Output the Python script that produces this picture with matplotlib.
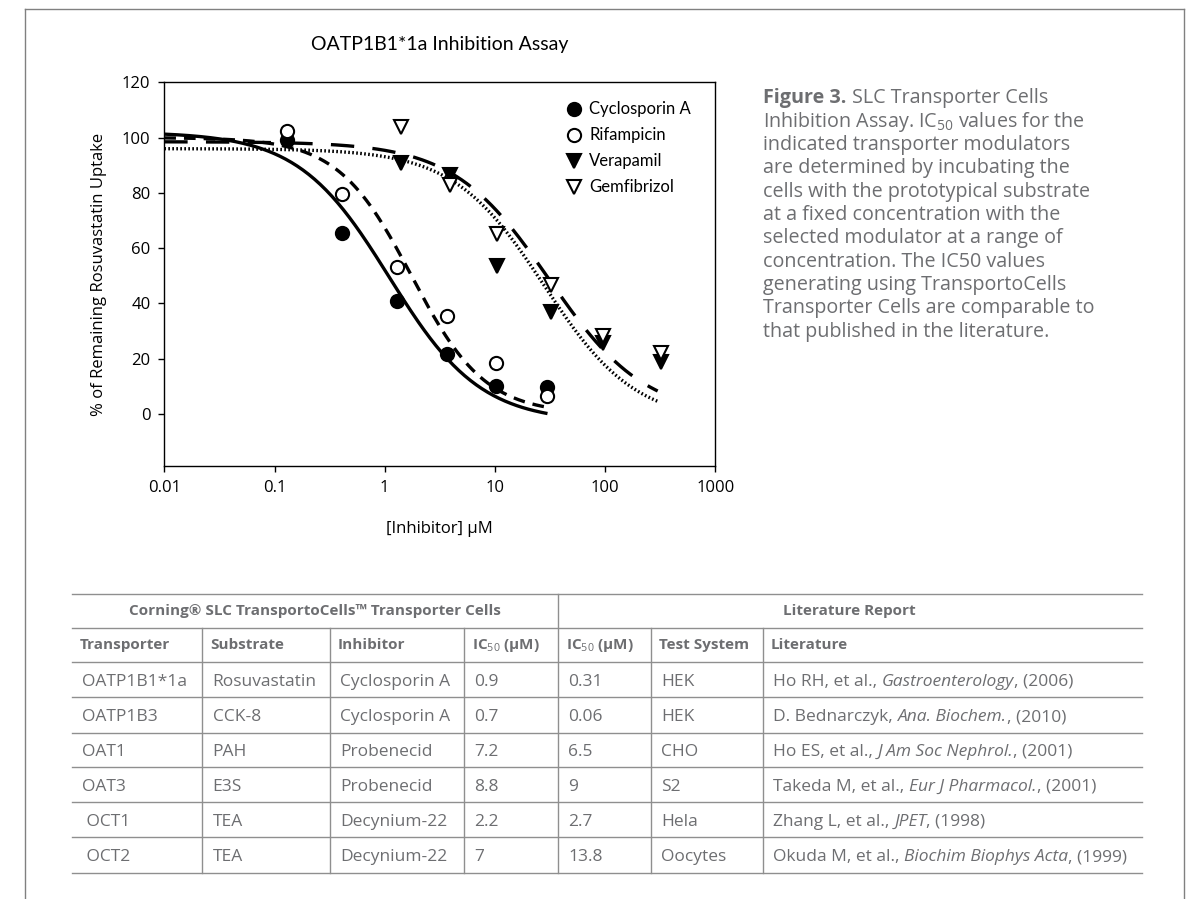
import numpy as np
import matplotlib
matplotlib.use("Agg")
import matplotlib.pyplot as plt
from matplotlib.lines import Line2D
from matplotlib.ticker import FixedLocator, NullLocator

plt.rcParams['font.family'] = ['Open Sans', 'DejaVu Sans']
plt.rcParams['mathtext.fontset'] = 'custom'
plt.rcParams['mathtext.rm'] = 'Open Sans'
plt.rcParams['mathtext.bf'] = 'Open Sans:bold'
plt.rcParams['mathtext.it'] = 'Open Sans:italic'

# ---- data ----
conc_ab = [0.13, 0.41, 1.3, 3.7, 10.3, 30]     # cyclosporin A, rifampicin
conc_vg = [1.4, 3.9, 10.5, 32, 95, 320]        # verapamil, gemfibrizol
cyclosporin = [99.0, 65.6, 40.8, 21.6, 10.2, 9.6]
rifampicin = [102.3, 79.6, 53.2, 35.4, 18.6, 6.4]
verapamil = [90.9, 86.4, 53.7, 36.9, 25.8, 18.9]
gemfibrizol = [103.9, 82.7, 65.2, 46.6, 28.2, 22.2]

names = ["Cyclosporin A", "Rifampicin", "Verapamil", "Gemfibrizol"]

# fitted dose-response curves (top, bottom, IC50, hill slope, last conc.)
fit_top = [102.0, 100.0, 98.5, 96.0]
fit_bottom = [-3.0, 0.0, -1.0, -3.0]
fit_ic50 = [1.1, 1.75, 31.0, 28.0]
fit_hill = [1.05, 1.3, 1.0, 1.05]
fit_xmax = [30, 30, 300, 300]

xtick_vals = [0.01, 0.1, 1, 10, 100, 1000]
xtick_labels = ["0.01", "0.1", "1", "10", "100", "1000"]
ytick_vals = [0, 20, 40, 60, 80, 100, 120]

caption = [
    "Inhibition Assay. IC$_{50}$ values for the",
    "indicated transporter modulators",
    "are determined by incubating the",
    "cells with the prototypical substrate",
    "at a fixed concentration with the",
    "selected modulator at a range of",
    "concentration. The IC50 values",
    "generating using TransportoCells",
    "Transporter Cells are comparable to",
    "that published in the literature.",
]

col_transporter = ["OATP1B1*1a", "OATP1B3", "OAT1", "OAT3", " OCT1", " OCT2"]
col_substrate = ["Rosuvastatin", "CCK-8", "PAH", "E3S", "TEA", "TEA"]
col_inhibitor = ["Cyclosporin A", "Cyclosporin A", "Probenecid", "Probenecid",
                 "Decynium-22", "Decynium-22"]
col_ic50 = ["0.9", "0.7", "7.2", "8.8", "2.2", "7"]
col_lit_ic50 = ["0.31", "0.06", "6.5", "9", "2.7", "13.8"]
col_system = ["HEK", "HEK", "CHO", "S2", "Hela", "Oocytes"]
lit_author = ["Ho RH, et al.,", "D. Bednarczyk,", "Ho ES, et al.,",
              "Takeda M, et al.,", "Zhang L, et al.,", "Okuda M, et al.,"]
lit_journal = ["Gastroenterology", "Ana. Biochem.", "J Am Soc Nephrol.",
               "Eur J Pharmacol.", "JPET", "Biochim Biophys Acta"]
lit_year = [", (2006)", ", (2010)", ", (2001)", ", (2001)", ", (1998)", ", (1999)"]
headers = ["Transporter", "Substrate", "Inhibitor", r"IC$_{50}$ (μM)",
           r"IC$_{50}$ (μM)", "Test System", "Literature"]

GRAY = "#6d6e71"
LINE = "#8f8f8f"

fig = plt.figure(figsize=(12, 8.99), dpi=100)

# page layer in pixel units
pg = fig.add_axes([0, 0, 1, 1])
pg.set_xlim(0, 1200)
pg.set_ylim(899, 0)
pg.axis("off")

# outer frame
for xs, ys in [([25, 1184], [9.3, 9.3]), ([25, 25], [9.3, 899]), ([1184, 1184], [9.3, 899])]:
    pg.add_line(Line2D(xs, ys, color="#808080", lw=1.0))

# ---- dose-response plot ----
ax = fig.add_axes([164.3 / 1200, 1 - 465.7 / 899, 551 / 1200, 383.4 / 899])
ax.set_xscale("log")

styles = [
    dict(ls="-"),
    dict(ls=(0, (3.5, 2.4))),
    dict(ls=(0, (7, 5.5))),
    dict(ls=(0, (0.5, 0.7))),
]
for i in range(4):
    xs = np.logspace(-2, np.log10(fit_xmax[i]), 200)
    ys = fit_bottom[i] + (fit_top[i] - fit_bottom[i]) / (1 + (xs / fit_ic50[i]) ** fit_hill[i])
    ax.plot(xs, ys, color="black", lw=2.4, solid_capstyle="butt",
            dash_capstyle="butt", **styles[i])

mk = dict(ms=9.5, mew=1.5, mec="black", ls="none")
h1, = ax.plot(conc_ab, cyclosporin, marker="o", mfc="black", **mk)
h2, = ax.plot(conc_ab, rifampicin, marker="o", mfc="white", **mk)
h3, = ax.plot(conc_vg, verapamil, marker="v", mfc="black", **mk)
h4, = ax.plot(conc_vg, gemfibrizol, marker="v", mfc="white", **mk)

ax.set_xlim(0.01, 1000)
ax.set_ylim(-18.7, 120)
ax.xaxis.set_major_locator(FixedLocator(xtick_vals))
ax.xaxis.set_minor_locator(NullLocator())
ax.set_xticklabels(xtick_labels)
ax.set_yticks(ytick_vals)
ax.tick_params(direction="out", length=4, width=1.0, labelsize=12, pad=6)
for s in ax.spines.values():
    s.set_linewidth(1.0)

ax.set_title("OATP1B1*1a Inhibition Assay", fontsize=14, family="Lato", pad=23)
ax.set_ylabel("% of Remaining Rosuvastatin Uptake", fontsize=12, labelpad=11)
ax.set_xlabel("[Inhibitor] μM", fontsize=12, labelpad=18)

leg = ax.legend([h1, h2, h3, h4], names, loc="upper left",
                bbox_to_anchor=(0.7137, 0.972), frameon=False, borderpad=0,
                handlelength=1.0, handletextpad=0.4, labelspacing=0.6,
                prop=dict(family="Lato", size=12))

# ---- caption ----
cx = 763
first = pg.text(cx, 103.5, "Figure 3.", fontsize=14.2, weight="bold",
                color=GRAY, va="baseline")
pg.annotate("SLC Transporter Cells", xy=(1, 0), xycoords=first,
            xytext=(4, 0), textcoords="offset points", fontsize=14.2,
            color=GRAY, va="bottom")
for k, line in enumerate(caption):
    pg.text(cx, 103.5 + 23.3 * (k + 1), line, fontsize=14.2, color=GRAY,
            va="baseline")

# ---- table ----
col_edges = [71.5, 202, 330, 463.5, 557.5, 651, 762.5, 1141.7]
row_lines = [594, 627.7, 661.7, 697.3, 732.7, 767.3, 802.3, 837.3, 872.7]
for y in row_lines:
    pg.add_line(Line2D([col_edges[0], col_edges[-1]], [y, y], color=LINE, lw=1.0))
for x in col_edges[1:-1]:
    top = row_lines[0] if x == 557.5 else row_lines[1]
    pg.add_line(Line2D([x, x], [top, row_lines[-1]], color=LINE, lw=1.0))

pg.text((col_edges[0] + col_edges[4]) / 2, 615,
        "Corning® SLC TransportoCells™ Transporter Cells",
        fontsize=11, weight="bold", color=GRAY, ha="center", va="baseline")
pg.text((col_edges[4] + col_edges[-1]) / 2, 615, "Literature Report",
        fontsize=11, weight="bold", color=GRAY, ha="center", va="baseline")
for j, h in enumerate(headers):
    pg.text(col_edges[j] + 8, 649, h, fontsize=11, weight="bold",
            color=GRAY, va="baseline")

columns = [col_transporter, col_substrate, col_inhibitor, col_ic50,
           col_lit_ic50, col_system]
for r in range(6):
    yb = (row_lines[r + 2] + row_lines[r + 3]) / 2 + 6
    for j, col in enumerate(columns):
        pg.text(col_edges[j] + 10.5, yb, col[r], fontsize=12.5, color=GRAY,
                va="baseline")
    t1 = pg.text(col_edges[6] + 10.5, yb, lit_author[r], fontsize=12.5,
                 color=GRAY, va="baseline")
    t2 = pg.annotate(lit_journal[r], xy=(1, 0), xycoords=t1, xytext=(3.5, 0),
                     textcoords="offset points", fontsize=12.5, color=GRAY,
                     style="italic", va="bottom")
    pg.annotate(lit_year[r], xy=(1, 0), xycoords=t2, fontsize=12.5,
                color=GRAY, va="bottom")

fig.savefig("out.png", dpi=100)
